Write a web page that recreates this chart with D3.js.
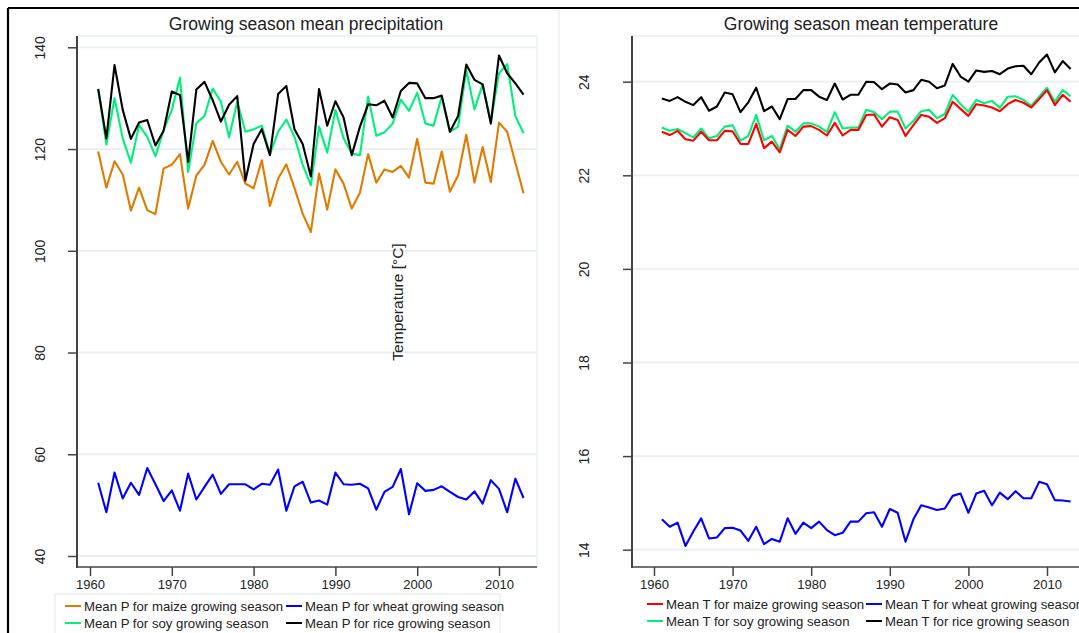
<!DOCTYPE html>
<html><head><meta charset="utf-8">
<script src="https://cdn.jsdelivr.net/npm/d3@7/dist/d3.min.js"></script>
<style>body{margin:0;background:#fff}svg{display:block}text{font-family:"Liberation Sans",Arial,sans-serif;fill:#222}</style>
</head><body><svg id="c" width="1079" height="633"></svg>
<script>
const years = d3.range(1961, 2014);
const xTicks = [1960,1970,1980,1990,2000,2010];
const pTicks = [40,60,80,100,120,140];
const tTicks = [14,16,18,20,22,24];

const pMaize = [119.5,112.4,117.6,115.0,107.9,112.4,108.0,107.2,116.2,116.9,119.0,108.3,114.8,116.9,121.6,117.5,115.0,117.5,113.2,112.3,117.8,108.8,114.2,117.0,112.3,107.3,103.7,115.2,108.1,116.0,113.2,108.3,111.4,119.0,113.4,116.0,115.5,116.7,114.4,122.0,113.4,113.2,119.5,111.6,114.8,122.8,113.4,120.4,113.5,125.2,123.4,117.3,111.3];
const pWheat = [54.4,48.6,56.4,51.3,54.4,52.0,57.3,54.1,50.8,52.9,48.9,56.2,51.1,53.6,56.0,52.2,54.1,54.1,54.1,53.1,54.2,54.0,57.0,48.9,53.7,54.6,50.5,50.9,50.1,56.4,54.1,54.0,54.2,53.3,49.1,52.6,53.6,57.1,48.2,54.3,52.8,53.0,53.7,52.6,51.6,51.1,52.7,50.3,54.9,53.2,48.6,55.2,51.4];
const pSoy = [131.8,120.9,130.0,122.1,117.3,124.7,122.4,118.6,123.7,127.7,134.0,115.5,125.1,126.5,131.9,129.3,122.3,129.3,123.4,123.9,124.6,119.0,123.4,125.8,122.4,116.9,112.9,124.4,119.3,127.7,122.1,119.1,118.8,130.3,122.6,123.3,125.0,129.7,127.5,131.1,125.0,124.6,130.3,123.4,124.4,135.5,127.8,132.7,125.4,134.9,136.7,126.5,123.1];
const pRice = [131.8,122.1,136.5,127.7,122.0,125.2,125.7,120.7,123.6,131.3,130.6,117.5,131.7,133.2,129.6,125.4,128.7,130.4,113.8,121.0,123.9,118.8,130.8,132.4,123.9,121.0,114.6,131.8,124.6,129.4,126.2,118.8,124.4,128.8,128.6,129.5,126.2,131.4,133.0,132.9,130.0,130.0,130.5,123.4,126.5,136.6,133.6,132.7,125.0,138.4,134.9,132.9,130.7];

const tMaize = [22.93,22.86,22.95,22.77,22.74,22.93,22.75,22.75,22.95,22.94,22.67,22.67,23.10,22.58,22.72,22.49,22.97,22.84,23.04,23.05,22.97,22.85,23.12,22.85,22.97,22.97,23.29,23.30,23.04,23.24,23.18,22.84,23.07,23.29,23.25,23.12,23.22,23.57,23.42,23.27,23.52,23.49,23.45,23.37,23.52,23.61,23.55,23.45,23.63,23.82,23.50,23.72,23.57];
const tWheat = [14.65,14.49,14.58,14.08,14.39,14.67,14.24,14.26,14.46,14.47,14.41,14.19,14.49,14.12,14.23,14.17,14.67,14.34,14.58,14.46,14.60,14.42,14.31,14.36,14.60,14.60,14.78,14.80,14.49,14.87,14.79,14.17,14.65,14.95,14.90,14.85,14.88,15.15,15.20,14.79,15.20,15.26,14.95,15.22,15.08,15.25,15.10,15.10,15.45,15.40,15.06,15.05,15.03];
const tSoy = [23.02,22.95,22.99,22.90,22.81,23.00,22.79,22.84,23.04,23.07,22.74,22.84,23.29,22.75,22.84,22.56,23.06,22.93,23.11,23.11,23.04,22.93,23.35,23.00,23.02,23.02,23.40,23.35,23.20,23.36,23.36,23.00,23.16,23.37,23.40,23.22,23.31,23.72,23.52,23.36,23.61,23.54,23.59,23.44,23.68,23.69,23.61,23.48,23.68,23.87,23.57,23.82,23.69];
const tRice = [23.64,23.59,23.67,23.57,23.50,23.67,23.38,23.47,23.77,23.73,23.35,23.56,23.87,23.37,23.47,23.20,23.63,23.63,23.82,23.82,23.68,23.61,23.96,23.62,23.72,23.72,24.00,23.99,23.84,23.96,23.94,23.77,23.82,24.04,24.00,23.86,23.92,24.38,24.11,24.00,24.24,24.21,24.23,24.16,24.28,24.33,24.34,24.16,24.41,24.58,24.20,24.44,24.27];

const pSeries = [
  {name:"Mean P for maize growing season", values:pMaize, color:"#e07b00"},
  {name:"Mean P for wheat growing season", values:pWheat, color:"#0000ff"},
  {name:"Mean P for soy growing season", values:pSoy, color:"#00f07a"},
  {name:"Mean P for rice growing season", values:pRice, color:"#000000"}
];
const tSeries = [
  {name:"Mean T for maize growing season", values:tMaize, color:"#ff0000"},
  {name:"Mean T for wheat growing season", values:tWheat, color:"#0000ff"},
  {name:"Mean T for soy growing season", values:tSoy, color:"#00f07a"},
  {name:"Mean T for rice growing season", values:tRice, color:"#000000"}
];
const pOrder = [0,1,2,3];
const tOrder = [1,3,2,0];

const svg = d3.select("#c");
const GRID = "#e9eff2";
const AX = "#444";

svg.append("line").attr("x1",8).attr("x2",1079).attr("y1",8).attr("y2",8).attr("stroke","#000").attr("stroke-width",2.2);
svg.append("line").attr("x1",8).attr("x2",8).attr("y1",8).attr("y2",633).attr("stroke","#000").attr("stroke-width",2.2);
svg.append("line").attr("x1",559).attr("x2",559).attr("y1",10).attr("y2",633).attr("stroke",GRID).attr("stroke-width",1.5);

function panel(cfg){
  const g = svg.append("g");
  const x = d3.scaleLinear().domain([1960,2010]).range(cfg.xr);
  const y = d3.scaleLinear().domain(cfg.yd).range(cfg.yr);
  const L = cfg.left, R = cfg.right, T = 36, B = 567;
  g.append("line").attr("x1",L).attr("x2",R).attr("y1",T).attr("y2",T).attr("stroke",GRID).attr("stroke-width",1.5);
  g.append("line").attr("x1",R).attr("x2",R).attr("y1",T).attr("y2",B).attr("stroke",GRID).attr("stroke-width",1.5);
  g.selectAll(".gr").data(cfg.yt).enter().append("line")
    .attr("x1",L).attr("x2",R).attr("y1",d=>y(d)).attr("y2",d=>y(d))
    .attr("stroke",GRID).attr("stroke-width",1.8);
  const line = d3.line().x((d,i)=>x(years[i])).y(d=>y(d));
  cfg.order.forEach(k=>{
    const s = cfg.series[k];
    g.append("path").datum(s.values).attr("d",line).attr("fill","none")
      .attr("stroke",s.color).attr("stroke-width",2.1).attr("stroke-linejoin","round");
  });
  const ya = g.append("g").attr("transform",`translate(${L},0)`)
    .call(d3.axisLeft(y).tickValues(cfg.yt).tickSize(9).tickFormat(d3.format("d")));
  ya.select(".domain").remove();
  ya.selectAll(".tick line").attr("stroke",AX).attr("stroke-width",1.5);
  ya.selectAll(".tick text").attr("x",0).attr("dy",0).attr("text-anchor","middle")
    .attr("transform",`translate(${cfg.ylabX - L},0) rotate(-90)`).style("font-size","14px").attr("fill","#222");
  g.append("line").attr("x1",L).attr("x2",L).attr("y1",T).attr("y2",B+1).attr("stroke",AX).attr("stroke-width",2);
  const xa = g.append("g").attr("transform",`translate(0,${B})`)
    .call(d3.axisBottom(x).tickValues(xTicks).tickSize(9).tickFormat(d3.format("d")));
  xa.select(".domain").remove();
  xa.selectAll(".tick line").attr("stroke",AX).attr("stroke-width",1.5);
  xa.selectAll(".tick text").attr("y",22).attr("dy","0").style("font-size","13px").attr("fill","#222");
  g.append("line").attr("x1",L-1).attr("x2",R).attr("y1",B).attr("y2",B).attr("stroke",AX).attr("stroke-width",1.5);
  g.append("text").attr("x",cfg.titleX).attr("y",30).attr("text-anchor","middle")
    .style("font-size","17.5px").attr("fill","#222").text(cfg.title);
  const lg = g.append("g");
  if (cfg.legBox) lg.append("rect").attr("x",cfg.legBox[0]).attr("y",cfg.legBox[1]).attr("width",cfg.legBox[2]).attr("height",cfg.legBox[3])
    .attr("fill","none").attr("stroke","#dfe6ea").attr("stroke-width",1);
  cfg.series.forEach((s,i)=>{
    const cx = cfg.legX[i%2], cy = cfg.legY[Math.floor(i/2)];
    lg.append("line").attr("x1",cx).attr("x2",cx+16).attr("y1",cy).attr("y2",cy).attr("stroke",s.color).attr("stroke-width",2);
    lg.append("text").attr("x",cx+19).attr("y",cy+4.8).style("font-size","13.2px").attr("fill","#222").text(s.name);
  });
}

panel({xr:[90,499], yd:[40,140], yr:[556,47.3], yt:pTicks, left:77, right:537, ylabX:45,
  series:pSeries, order:pOrder, title:"Growing season mean precipitation", titleX:306,
  legX:[65,286], legY:[606,623], legBox:[55,594,445,45]});
panel({xr:[654,1047], yd:[14,24], yr:[549.7,81.7], yt:tTicks, left:632, right:1092, ylabX:589,
  series:tSeries, order:tOrder, title:"Growing season mean temperature", titleX:861,
  legX:[647,866], legY:[604,621], legBox:null});

svg.append("text").attr("transform","translate(403,302) rotate(-90)").attr("text-anchor","middle")
  .style("font-size","15.5px").attr("fill","#111").text("Temperature [°C]");
</script></body></html>
